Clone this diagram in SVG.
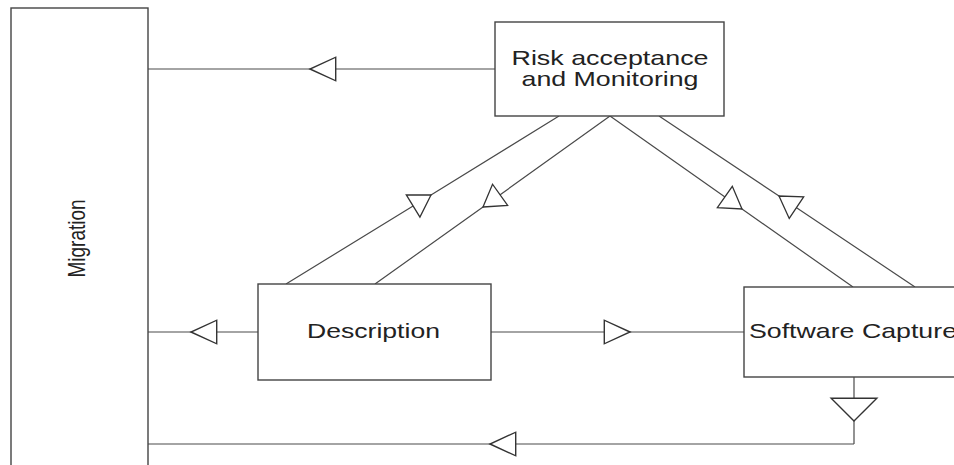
<svg xmlns="http://www.w3.org/2000/svg" width="954" height="465" viewBox="0 0 954 465">
<style>
  .box { fill: #ffffff; stroke: #444444; stroke-width: 1.4; }
  .con { fill: none; stroke: #4a4a4a; stroke-width: 1.2; }
  .lbl { font-family: "Liberation Sans", Arial, sans-serif; font-size: 21px; fill: #222222; }
</style>
<defs>
  <marker id="ah" markerUnits="userSpaceOnUse" markerWidth="30" markerHeight="30" viewBox="-26 -13 28 26" refX="0" refY="0" orient="auto">
    <path d="M0,0 L-24,-11 L-24,11 Z" fill="#ffffff" stroke="#333333" stroke-width="1.3"/>
  </marker>
  <marker id="ad" markerUnits="userSpaceOnUse" markerWidth="30" markerHeight="30" viewBox="-24 -15 26 30" refX="0" refY="0" orient="auto">
    <path d="M0,0 L-21,-13 L-21,13 Z" fill="#ffffff" stroke="#333333" stroke-width="1.3"/>
  </marker>
  <marker id="av" markerUnits="userSpaceOnUse" markerWidth="50" markerHeight="50" viewBox="-24 -23 26 46" refX="0" refY="0" orient="auto">
    <path d="M0,0 L-21,-21 L-21,21 Z" fill="#ffffff" stroke="#333333" stroke-width="1.3"/>
  </marker>
</defs>
<rect width="954" height="465" fill="#ffffff"/>

<g id="connectors">
  <path class="con" d="M495,69 L310,69 L148,69" marker-mid="url(#ah)"/>
  <path class="con" d="M258,332 L191,332 L148,332" marker-mid="url(#ah)"/>
  <path class="con" d="M491,332 L630,332 L744,332" marker-mid="url(#ah)"/>
  <path class="con" d="M854,377 L854,421 L854,444" marker-mid="url(#av)"/>
  <path class="con" d="M854,444 L490,444 L148,444" marker-mid="url(#ah)"/>
  <path class="con" d="M286,284 L431,195 L559,116" marker-mid="url(#ad)"/>
  <path class="con" d="M610,116 L483,207 L375,284" marker-mid="url(#ad)"/>
  <path class="con" d="M610,116 L742,209 L853,287" marker-mid="url(#ad)"/>
  <path class="con" d="M915,287 L779,196 L659,116" marker-mid="url(#ad)"/>
</g>

<g id="migration">
  <rect class="box" x="11" y="8" width="137" height="470"/>
  <text class="lbl" font-size="19" text-anchor="middle" transform="translate(85,238.5) scale(1.27,1) rotate(-90)" x="0" y="0" style="font-size:19px">Migration</text>
</g>

<g id="risk">
  <rect class="box" x="495" y="22" width="229" height="94"/>
  <text class="lbl" x="610" y="65" text-anchor="middle" textLength="197" lengthAdjust="spacingAndGlyphs">Risk acceptance</text>
  <text class="lbl" x="610" y="86" text-anchor="middle" textLength="177" lengthAdjust="spacingAndGlyphs">and Monitoring</text>
</g>

<g id="description">
  <rect class="box" x="258" y="284" width="233" height="96"/>
  <text class="lbl" x="373.5" y="338" text-anchor="middle" textLength="133" lengthAdjust="spacingAndGlyphs">Description</text>
</g>

<g id="software">
  <rect class="box" x="744" y="287" width="230" height="90"/>
  <text class="lbl" x="749" y="338" textLength="208" lengthAdjust="spacingAndGlyphs">Software Capture</text>
</g>
</svg>
